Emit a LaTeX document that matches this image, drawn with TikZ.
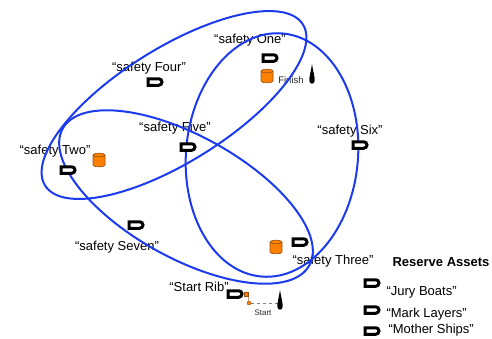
\documentclass[tikz,border=0pt]{standalone}
\usepackage{fontspec}
\setmainfont{Liberation Sans}
\usetikzlibrary{positioning,shapes.misc}

\definecolor{areablue}{RGB}{28,58,238}
\definecolor{markorange}{RGB}{255,128,0}
\definecolor{markedge}{RGB}{150,80,20}

\tikzset{
  boat/.style={rounded rectangle, rounded rectangle left arc=none, draw=black, fill=white,
    line width=3pt, minimum width=14pt, minimum height=6.5pt, inner sep=0pt},
  safety/.style={font=\fontsize{13}{15}\selectfont},
  small/.style={font=\fontsize{9.5}{11}\selectfont, text=black!85},
  area/.style={draw=areablue, line width=2pt},
  pics/buoy/.style={code={
    \filldraw[fill=markorange, draw=markedge, line width=0.6pt] (-6,-5) -- (-6,5)
      .. controls (-6,7.5) and (6,7.5) .. (6,5) -- (6,-5)
      .. controls (6,-7.5) and (-6,-7.5) .. (-6,-5) -- cycle;
    \draw[markedge, line width=0.6pt] (-6,-5) .. controls (-6,-2.5) and (6,-2.5) .. (6,-5);}},
  pics/markpin/.style={code={
    \fill[black] (0,-10) .. controls (1,-3) and (3,3) .. (2.6,7)
      .. controls (2.2,10.5) and (-2.2,10.5) .. (-2.6,7)
      .. controls (-3,3) and (-1,-3) .. (0,-10);}},
}

\begin{document}
\begin{tikzpicture}[x=1pt,y=-1pt]
  \useasboundingbox (0,0) rectangle (492,338);

  % safety boat labels
  \node[safety] (one) at (250,40) {“safety One”};
  \node[safety] (four) at (149,68) {“safety Four”};
  \node[safety] (five) at (175,128) {“safety Five”};
  \node[safety] (two) at (55,151) {“safety Two”};
  \node[safety] (six) at (350,131) {“safety Six”};
  \node[safety] (seven) at (117,247) {“safety Seven”};
  \node[safety] (three) at (333,261) {“safety Three”};
  \node[safety] (rib) at (199,287) {“Start Rib”};

  % marks
  \pic (finishmark) at (267,76) {buoy};
  \pic (twomark) at (99,160) {buoy};
  \pic (threemark) at (276,247) {buoy};
  \node[small] (finish) at (291,80) {Finish};
  \pic (finishpin) at (312,74) {markpin};

  % course areas
  \draw[area, rotate around={32:(174,105)}] (174,105) ellipse [x radius=152, y radius=57];
  \draw[area, rotate around={-5:(272,155)}] (272,155) ellipse [x radius=86, y radius=122];
  \draw[area, rotate around={-29:(186,197)}] (186,197) ellipse [x radius=141, y radius=61];

  % safety boats
  \node[boat] (oneboat) at (270,58) {};
  \node[boat] (fourboat) at (155,82) {};
  \node[boat] (fiveboat) at (188,147) {};
  \node[boat] (twoboat) at (68,170) {};
  \node[boat] (sixboat) at (360,145) {};
  \node[boat] (sevenboat) at (136,225) {};
  \node[boat] (threeboat) at (300,242) {};

  % start line
  \node[boat] (ribboat) at (235,294) {};
  \node[fill=markorange, draw=markedge, minimum width=4pt, minimum height=4pt,
    inner sep=0pt, anchor=west] (ribtip) at (ribboat.east) {};
  \node[circle, fill=markorange, draw=markedge, minimum size=4pt, inner sep=0pt] (startdot) at (249,303) {};
  \coordinate (startpin) at (280,303);
  \draw[markedge] (ribtip.east) -- (startdot);
  \draw[dashed, gray] (startdot) -- (startpin);
  \pic at (280,300) {markpin};
  \node[small, font=\fontsize{8}{9}\selectfont] (start) at (263,313) {Start};

  % reserve assets
  \node[safety, font=\fontsize{13}{15}\selectfont\bfseries] (reserve) at (441,262) {Reserve Assets};
  \node[boat] (juryboat) at (372,283) {};
  \node[boat] (markboat) at (372,310) {};
  \node[boat] (motherboat) at (372,331) {};
  \node[safety, anchor=west] (jury) at (383,292) {“Jury Boats”};
  \node[safety, anchor=west] (layers) at (383,314) {“Mark Layers”};
  \node[safety, anchor=west] (mother) at (385,330) {“Mother Ships”};
\end{tikzpicture}
\end{document}
